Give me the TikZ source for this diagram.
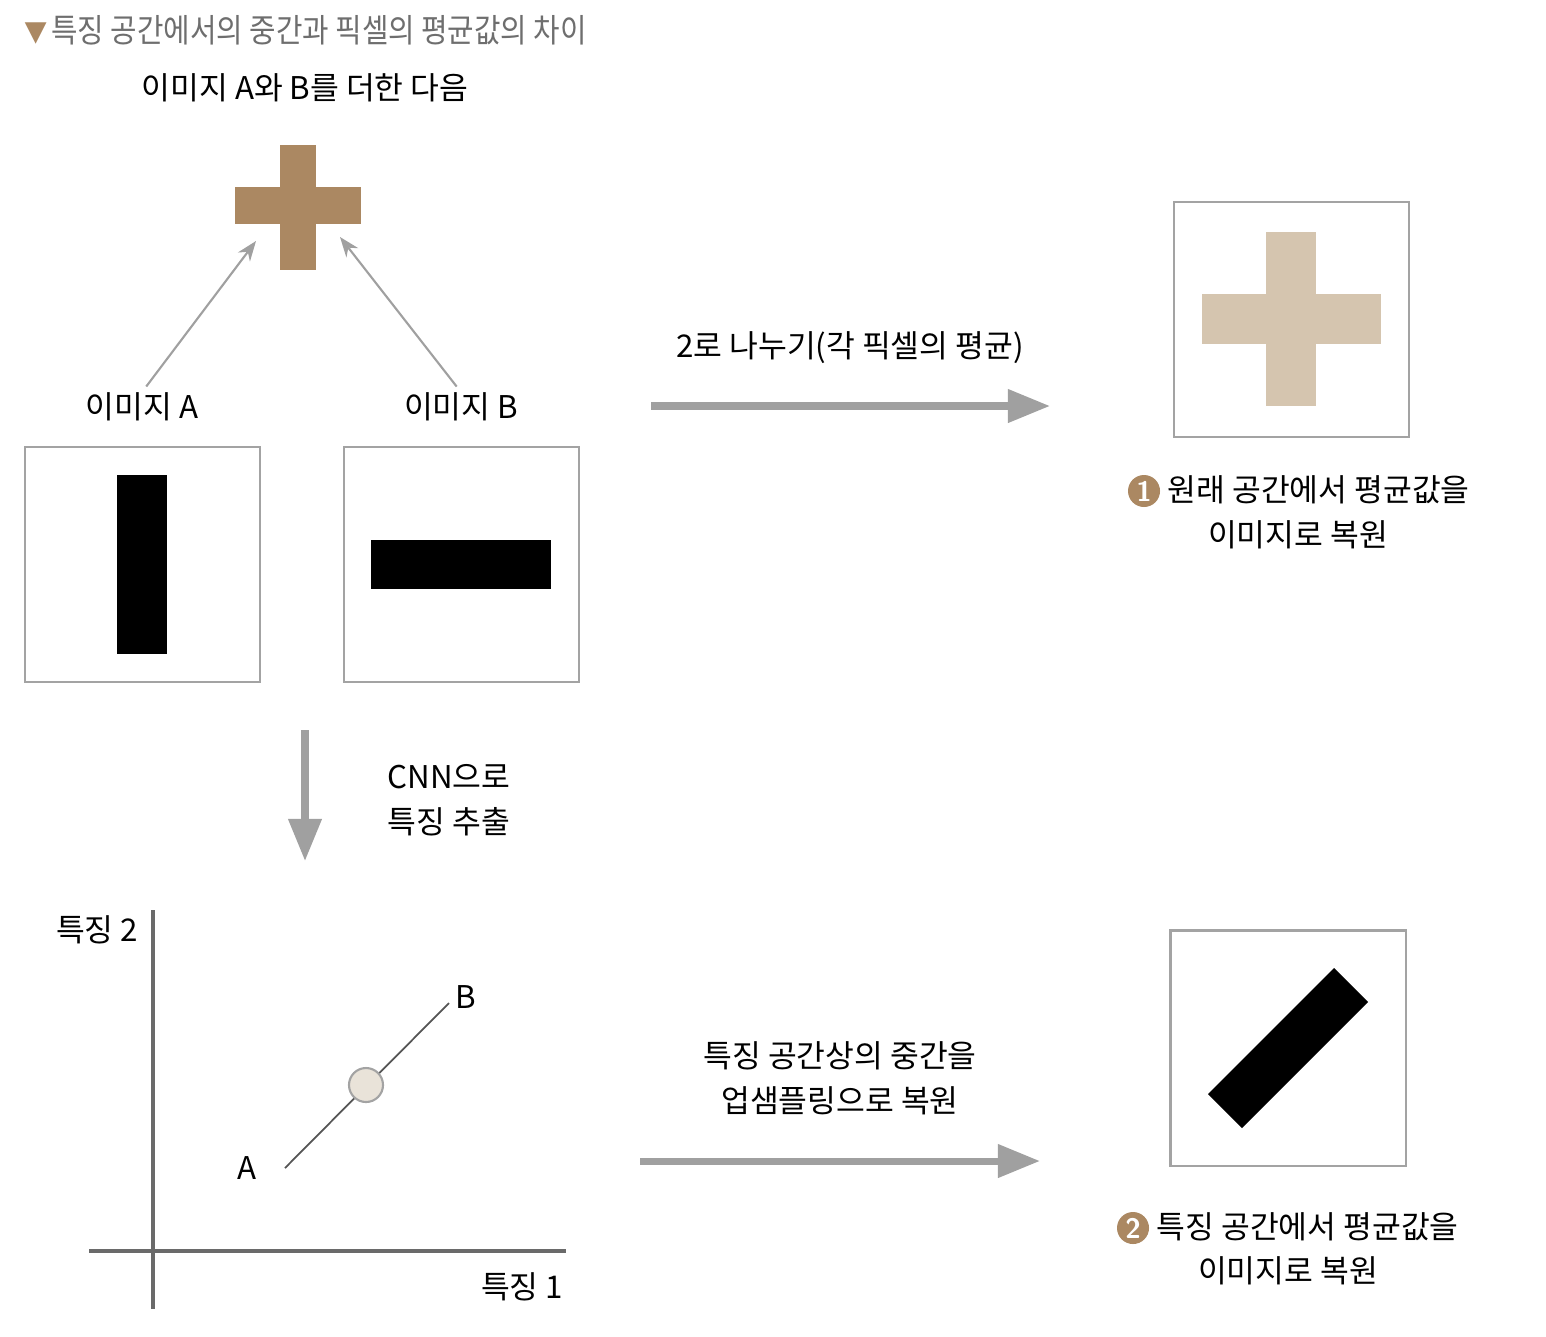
\documentclass[tikz,border=0pt]{standalone}
\usepackage{fontspec}
\newfontfamily\kr{Noto Sans CJK KR}
\newfontfamily\krnarrow[FakeStretch=0.88]{Noto Sans CJK KR}
\usetikzlibrary{arrows.meta,positioning}

\definecolor{plusbrown}{HTML}{AB8862}
\definecolor{pluslight}{HTML}{D5C5AF}
\definecolor{arrowgray}{HTML}{A0A0A0}
\definecolor{boxgray}{HTML}{A3A3A3}
\definecolor{axisgray}{HTML}{6A6A6A}
\definecolor{titlegray}{HTML}{6E6E6E}
\definecolor{midfill}{HTML}{E9E3D9}

\tikzset{
    labeltext/.style={font=\kr\fontsize{8.9}{12.8}\selectfont, inner sep=0pt, align=center},
    titletext/.style={font=\krnarrow\fontsize{9.3}{12.8}\selectfont, inner sep=0pt},
    imgbox/.style={draw=boxgray, line width=0.6pt, minimum size=2.35cm, inner sep=0pt},
    bigarrow/.style={draw=arrowgray, line width=2pt, -{Triangle[length=0.42cm,width=0.32cm]}},
    thinarrow/.style={draw=arrowgray, line width=0.6pt, -{Stealth[length=0.2cm,width=0.15cm]}},
    axisline/.style={draw=axisgray, line width=0.9pt},
    numdot/.style={circle, fill=plusbrown, minimum size=0.32cm, inner sep=0pt,
        text=white, font=\sffamily\bfseries\footnotesize},
}

\begin{document}
\begin{tikzpicture}[x=0.01cm, y=-0.01cm]
    \useasboundingbox (0,0) rectangle (1546,1336);

    % title
    \node[titletext, anchor=west, text=titlegray] (title) at (24,30)
        {{\color{plusbrown}\fontsize{7.5}{9}\selectfont▼}\hspace{1pt}특징 공간에서의 중간과 픽셀의 평균값의 차이};

    % sum of the two images
    \node[labeltext] (sumtext) at (305,88) {이미지 A와 B를 더한 다음};
    \fill[plusbrown] (280,145) rectangle (316,270);
    \fill[plusbrown] (235,187) rectangle (361,224);
    \coordinate (plusleft) at (256,241);
    \coordinate (plusright) at (340,237);

    \node[labeltext] (labA) at (142,407) {이미지 A};
    \node[labeltext] (labB) at (461,407) {이미지 B};
    \draw[thinarrow, shorten <=2pt] (labA.north) -- (plusleft);
    \draw[thinarrow, shorten <=2pt] (labB.north) -- (plusright);

    \node[imgbox] (imgA) at (142.5,564.5) {};
    \fill (117,475) rectangle (167,654);
    \node[imgbox] (imgB) at (461.5,564.5) {};
    \fill (371,540) rectangle (551,589);

    % average of pixels
    \coordinate (divstart) at (651,406);
    \coordinate (divend) at (1050,406);
    \draw[bigarrow] (divstart) -- (divend);
    \node[labeltext] (divtext) at (850,348) {2로 나누기(각 픽셀의 평균)};

    \node[imgbox] (imgavg) at (1291.5,319.5) {};
    \fill[pluslight] (1266,232) rectangle (1316,406);
    \fill[pluslight] (1202,294) rectangle (1381,344);

    \node[numdot] (num1) at (1144,491) {1};
    \node[labeltext, anchor=west] (note1a) at (1167,490) {원래 공간에서 평균값을};
    \node[labeltext] (note1b) at (1298,535) {이미지로 복원};

    % feature extraction
    \coordinate (cnnstart) at (305,730);
    \coordinate (cnnend) at (305,861);
    \draw[bigarrow] (cnnstart) -- (cnnend);
    \node[labeltext] (cnntext) at (449,800) {CNN으로\\특징 추출};

    % feature space
    \coordinate (yaxtop) at (153,910);
    \coordinate (yaxbot) at (153,1309);
    \coordinate (xaxleft) at (89,1251);
    \coordinate (xaxright) at (566,1251);
    \draw[axisline] (yaxtop) -- (yaxbot);
    \draw[axisline] (xaxleft) -- (xaxright);
    \node[labeltext] (feat2) at (97,930) {특징 2};
    \node[labeltext] (feat1) at (522,1287) {특징 1};

    \coordinate (ptA) at (285,1168);
    \coordinate (ptB) at (449,1003);
    \draw[axisgray!80!black, line width=0.5pt] (ptA) -- (ptB);
    \node[circle, draw=boxgray, fill=midfill, line width=0.6pt, minimum size=0.34cm,
        inner sep=0pt] (midpt) at (366,1085) {};
    \node[labeltext] (textA) at (247,1168) {A};
    \node[labeltext] (textB) at (466,997) {B};

    % upsampling
    \coordinate (upstart) at (640,1161);
    \coordinate (upend) at (1040,1161);
    \draw[bigarrow] (upstart) -- (upend);
    \node[labeltext] (uptext) at (840,1078) {특징 공간상의 중간을\\업샘플링으로 복원};

    \node[imgbox] (imgfeat) at (1288,1048) {};
    \fill (1208,1094) -- (1334,968) -- (1368,1002) -- (1242,1128) -- cycle;

    \node[numdot] (num2) at (1133,1228) {2};
    \node[labeltext, anchor=west] (note2a) at (1156,1227) {특징 공간에서 평균값을};
    \node[labeltext] (note2b) at (1288,1271) {이미지로 복원};
\end{tikzpicture}
\end{document}
